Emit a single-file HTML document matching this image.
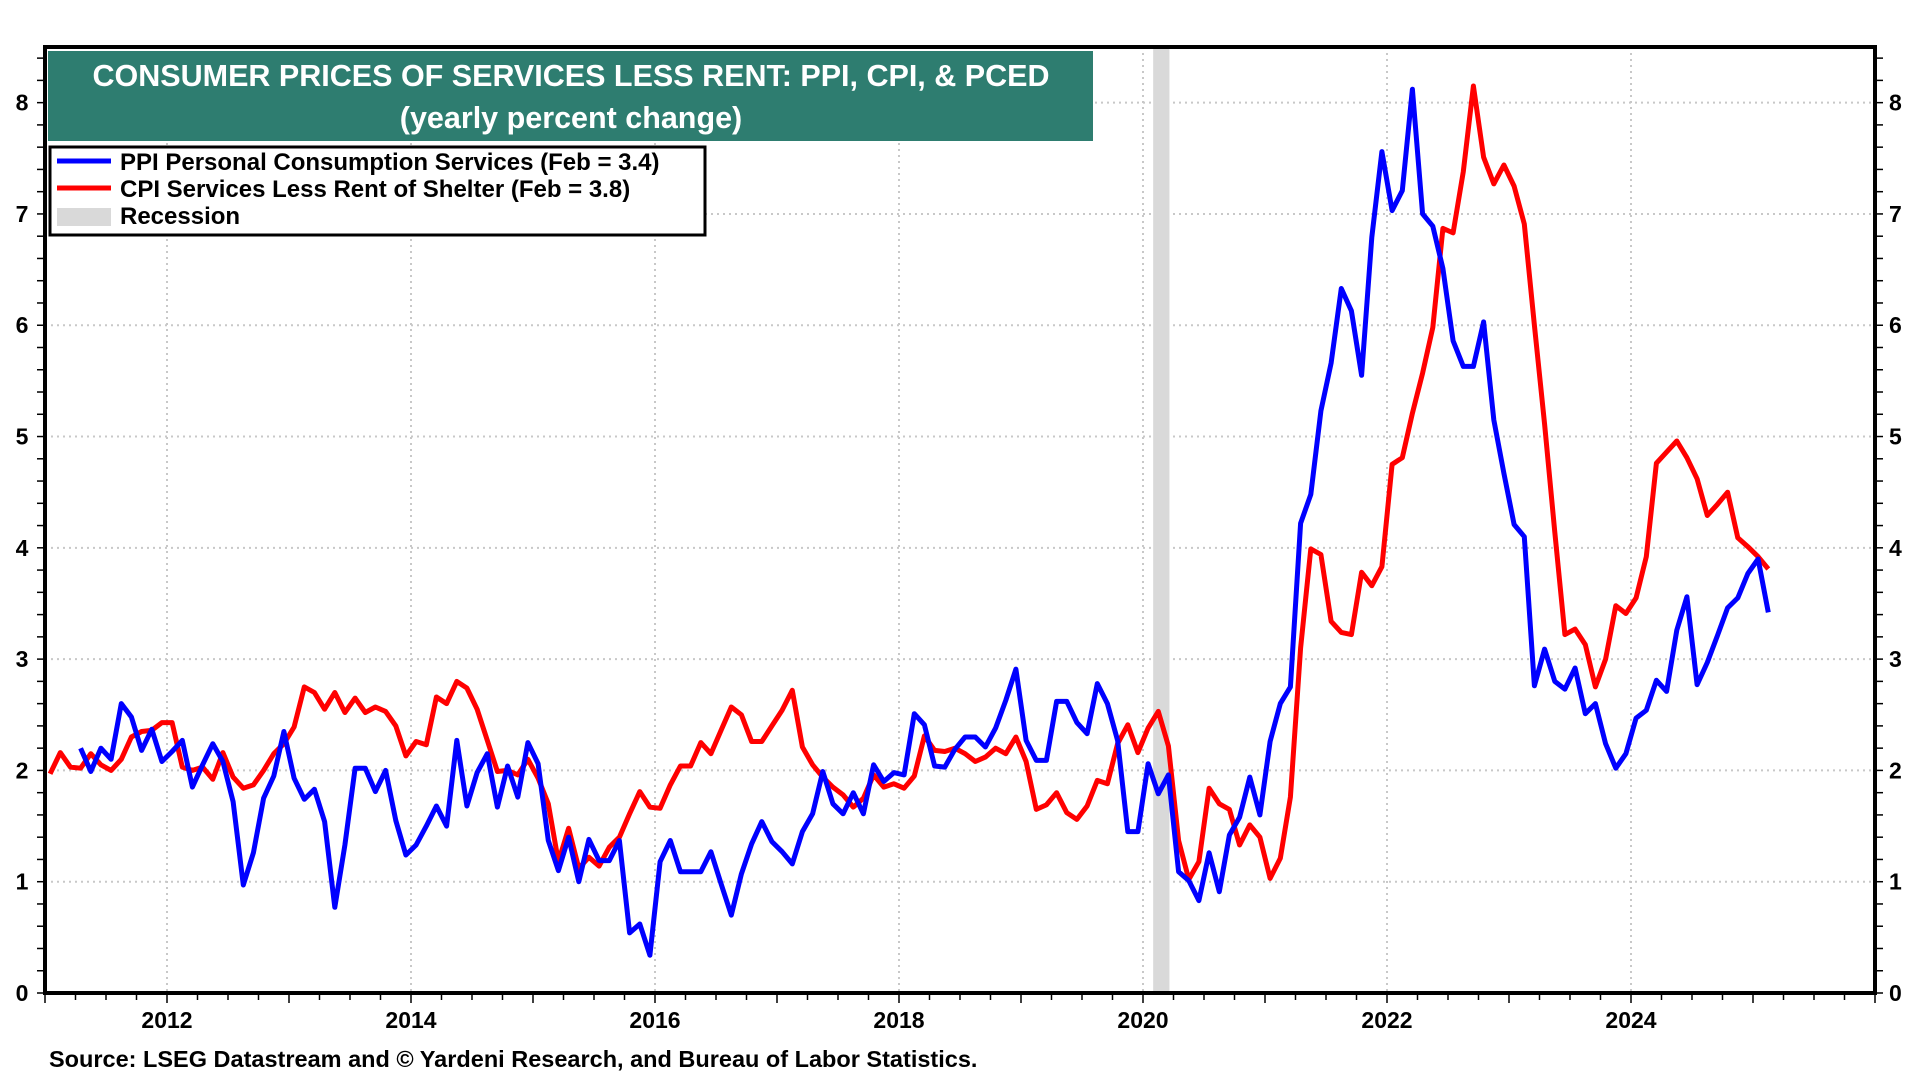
<!DOCTYPE html>
<html><head><meta charset="utf-8"><style>
html,body{margin:0;padding:0;background:#fff;}
svg{display:block;font-family:"Liberation Sans",Arial,sans-serif;font-weight:bold;}
</style></head><body>
<svg id="chart" width="1920" height="1080" viewBox="0 0 1920 1080" xmlns="http://www.w3.org/2000/svg">
<g id="grid"></g>
<g id="recession"></g>
<g id="series"></g>
<g id="axes"></g>
<g>
<rect x="48" y="51" width="1045" height="90" fill="#2e7d70"/>
<text x="571" y="86" fill="#fff" font-size="30.5" text-anchor="middle">CONSUMER PRICES OF SERVICES LESS RENT: PPI, CPI, &amp; PCED</text>
<text x="571" y="128" fill="#fff" font-size="30.5" text-anchor="middle">(yearly percent change)</text>
</g>
<g>
<rect x="50" y="147" width="655" height="88" fill="#fff" stroke="#000" stroke-width="3"/>
<g><line x1="57" y1="161" x2="111" y2="161" stroke="#0000ff" stroke-width="5"/><text x="120" y="170" font-size="24">PPI Personal Consumption Services (Feb = 3.4)</text></g>
<g><line x1="57" y1="188" x2="111" y2="188" stroke="#ff0000" stroke-width="5"/><text x="120" y="197" font-size="24">CPI Services Less Rent of Shelter (Feb = 3.8)</text></g>
<g><rect x="57" y="208" width="54" height="18" fill="#d9d9d9"/><text x="120" y="224" font-size="24">Recession</text></g>
</g>
<text x="49" y="1067" font-size="23.5">Source: LSEG Datastream and © Yardeni Research, and Bureau of Labor Statistics.</text>
</svg>
<script>
const xTickYears=[2012,2014,2016,2018,2020,2022,2024];
const yTicks=[0,1,2,3,4,5,6,7,8];
const recessions=[[2020+1/12,2020+2.6/12]];
const startYear=2011;
const ppiStartIndex=3;
const ppi=[2.2,1.99,2.2,2.1,2.6,2.48,2.18,2.37,2.08,2.17,2.27,1.85,2.05,2.24,2.08,1.72,0.97,1.26,1.75,1.95,2.35,1.93,1.74,1.83,1.54,0.77,1.33,2.02,2.02,1.81,2.0,1.55,1.24,1.33,1.5,1.68,1.5,2.27,1.68,1.98,
2.15,1.67,2.04,1.76,2.25,2.06,1.37,1.10,1.40,1.00,1.38,1.19,1.19,1.37,0.54,0.62,0.34,1.18,1.37,1.09,1.09,1.09,1.27,0.98,0.70,1.07,1.34,1.54,1.36,1.27,1.16,1.45,1.61,1.99,1.70,1.61,1.80,1.61,2.05,1.90,1.98,
1.96,2.51,2.41,2.04,2.03,2.19,2.30,2.30,2.21,2.38,2.63,2.91,2.27,2.09,2.09,2.62,2.62,2.43,2.33,2.78,2.60,2.27,1.45,1.45,2.06,1.79,1.96,1.09,1.01,0.83,1.26,0.91,1.42,1.58,1.94,1.60,2.26,2.60,2.75,
4.22,4.48,5.23,5.66,6.33,6.13,5.55,6.79,7.56,7.03,7.21,8.12,7.0,6.89,6.51,5.86,5.63,5.63,6.03,5.15,4.67,4.21,4.10,2.76,3.09,
2.8,2.73,2.92,2.51,2.60,2.24,2.02,2.15,2.47,2.54,2.81,2.71,3.26,3.56,2.77,2.97,3.21,3.46,3.55,3.77,3.90,3.42];
const cpiStartIndex=0;
const cpi=[1.97,2.16,2.03,2.02,2.15,2.05,2.0,2.1,2.3,2.35,2.36,2.43,2.43,
2.03,2.0,2.03,1.92,2.16,1.94,1.84,1.87,2.0,2.15,2.24,
2.39,2.75,2.70,2.55,2.70,2.52,2.65,2.52,2.57,2.53,2.4,2.13,
2.26,2.23,2.66,2.6,2.8,2.74,2.55,
2.27,1.99,2.0,1.96,2.10,1.93,1.70,1.18,1.48,1.12,1.22,1.14,1.31,1.40,1.61,1.81,1.67,1.66,1.87,2.04,2.04,2.25,2.15,2.36,2.57,2.50,2.26,2.26,2.40,2.54,2.72,2.21,2.05,1.94,1.85,1.78,1.67,1.75,1.96,1.85,1.88,
1.84,1.95,2.31,2.18,2.17,2.20,2.15,2.08,2.12,2.20,2.15,2.30,2.08,1.65,1.69,1.80,1.62,1.56,1.68,1.91,1.88,2.24,2.41,2.16,2.38,2.53,2.22,1.37,1.02,1.18,1.84,1.70,1.65,1.33,1.51,1.40,1.03,1.21,1.76,
3.1,3.99,3.94,3.34,3.24,3.22,3.78,3.66,3.83,4.75,4.81,5.21,5.57,5.98,6.87,6.83,7.38,8.15,7.51,7.27,7.44,7.25,6.91,6.0,5.11,4.14,
3.22,3.27,3.13,2.75,3.0,3.48,3.41,3.55,3.92,4.76,4.86,4.96,4.81,4.62,4.29,4.39,4.50,4.09,4.01,3.92,3.81];

const L=45,R=1875,T=47,B=993,X0=2011,X1=2026,Y0=0,Y1=8.5;
const NS='http://www.w3.org/2000/svg';
function xs(v){return L+(v-X0)/(X1-X0)*(R-L);}
function ys(v){return B-(v-Y0)/(Y1-Y0)*(B-T);}
function mk(tag,attrs,parent){const e=document.createElementNS(NS,tag);for(const k in attrs)e.setAttribute(k,attrs[k]);parent.appendChild(e);return e;}
const grid=document.getElementById('grid'),axes=document.getElementById('axes'),ser=document.getElementById('series'),rec=document.getElementById('recession');
yTicks.forEach(v=>{if(v>0){const g=mk('line',{x1:L,x2:R,y1:ys(v),y2:ys(v),stroke:'#c8c8c8','stroke-width':2,'stroke-dasharray':'2,4'},grid);

}
[0,1].forEach(side=>{const t=mk('text',{x:side===0?22:R+14,y:ys(v)+8,'font-size':23,'text-anchor':side===0?'middle':'start'},axes);t.textContent=v;

});});
for(let v=0;v<=Y1+0.001;v+=0.2){const y=ys(v);mk('line',{x1:L-8,x2:L,y1:y,y2:y,stroke:'#000','stroke-width':1.5},axes);mk('line',{x1:R,x2:R+8,y1:y,y2:y,stroke:'#000','stroke-width':1.5},axes);}
xTickYears.forEach(yr=>{const x=xs(yr);const g=mk('line',{x1:x,x2:x,y1:T,y2:B,stroke:'#c8c8c8','stroke-width':2,'stroke-dasharray':'2,4'},grid);


const t=mk('text',{x:x,y:B+35,'font-size':23,'text-anchor':'middle'},axes);t.textContent=yr;

});
for(let q=X0;q<=X1;q+=0.25){const x=xs(q);mk('line',{x1:x,x2:x,y1:B,y2:B+(Number.isInteger(q)?10:7),stroke:'#000','stroke-width':1.5},axes);}
recessions.forEach(r=>{const e=mk('rect',{x:xs(r[0]),y:T,width:xs(r[1])-xs(r[0]),height:B-T,fill:'#d9d9d9'},rec);

});
mk('rect',{x:L,y:T,width:R-L,height:B-T,fill:'none',stroke:'#000','stroke-width':4},axes);
function line(vals,start,color,name){const pts=vals.map((v,i)=>xs(startYear+(start+i+0.5)/12).toFixed(1)+','+ys(v).toFixed(1)).join(' ');
const p=mk('polyline',{points:pts,fill:'none',stroke:color,'stroke-width':5,'stroke-linejoin':'round'},ser);

}
line(cpi,cpiStartIndex,'#ff0000','cpi-services-line');
line(ppi,ppiStartIndex,'#0000ff','ppi-services-line');
</script>
</body></html>
